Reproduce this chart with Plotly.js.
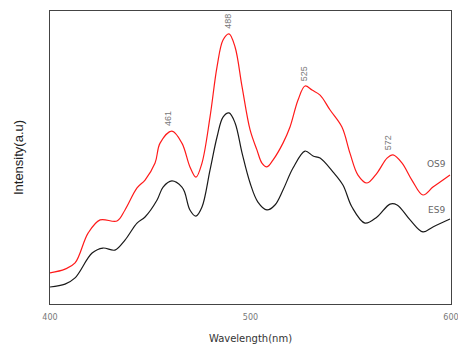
<!DOCTYPE html>
<html>
<head>
<meta charset="utf-8">
<script src="https://cdn.plot.ly/plotly-3.0.1.min.js"></script>
<style>html,body{margin:0;padding:0;background:#fff;}#chart{width:458px;height:344px;}</style>
</head>
<body>
<div id="chart"></div>
<script>
// OS9 (red) spectrum
const osWavelength = [400, 407.5, 412.5, 419, 425, 433.4, 437.4, 443.4, 447.4, 452.4, 454.9, 460.8, 465.8, 469.8, 472.8, 475.8, 479.8, 483.3, 486.3, 489.3, 492.3, 495.8, 499.8, 503.2, 505.7, 508.2, 511.2, 516.2, 519.7, 523.7, 527.2, 530.7, 534.7, 539.7, 545.6, 549.6, 553.6, 558.1, 563.1, 568.1, 571.1, 575.6, 580.5, 586, 591, 596, 599.5];
const osIntensity = [10.6, 11.9, 14.0, 24.2, 28.7, 28.3, 32.1, 39.6, 42.3, 48.1, 54.9, 59.0, 54.9, 46.8, 43.3, 48.1, 63.8, 80.9, 90.1, 92.2, 87.7, 74.1, 59.4, 52.6, 48.1, 46.8, 49.1, 54.9, 60.4, 69.6, 74.4, 73.0, 71.3, 66.2, 60.4, 51.5, 44.0, 41.3, 44.7, 49.8, 50.9, 48.1, 42.3, 37.2, 39.9, 42.3, 44.0];
// ES9 (black) spectrum
const esWavelength = [400, 407.5, 412.5, 421, 426.4, 432.4, 437.4, 443.4, 447.4, 453.4, 456.4, 460.8, 465.8, 467.3, 469.8, 472.8, 475.8, 479.8, 483.3, 486.3, 489.3, 492.3, 495.8, 499.8, 503.7, 508.2, 512.2, 516.2, 521.2, 527.2, 531.2, 534.7, 541.1, 546.1, 550.6, 557.1, 563.1, 569.6, 573.1, 579.6, 586, 591, 599.5];
const esIntensity = [5.8, 6.8, 8.9, 17.4, 19.1, 18.4, 21.8, 27.6, 29.7, 35.5, 39.9, 42.0, 39.9, 37.9, 32.1, 30.0, 33.1, 45.7, 57.0, 63.8, 65.2, 61.8, 51.5, 41.3, 34.8, 32.1, 33.8, 38.9, 46.4, 52.2, 50.5, 49.8, 45.1, 40.6, 33.1, 27.6, 29.7, 34.1, 33.8, 28.7, 24.6, 26.3, 29.0];
// peak labels
const peakLabels = ["461", "488", "525", "572"];
const peakX = [458.5, 489, 526.5, 569];
const peakY = [59.0, 92.2, 74.4, 50.9];
// series labels
const seriesNames = ["OS9", "ES9"];
const tickVals = [400, 500, 600];
const tickText = ["400", "500", "600"];

const traces = [
  {x: osWavelength, y: osIntensity, mode: 'lines', name: seriesNames[0],
   line: {color: '#ff1a1a', width: 1.2, shape: 'spline', smoothing: 1}},
  {x: esWavelength, y: esIntensity, mode: 'lines', name: seriesNames[1],
   line: {color: '#1a1a1a', width: 1.2, shape: 'spline', smoothing: 1}}
];

const annotations = peakLabels.map((t, i) => ({
  x: peakX[i], y: peakY[i], xref: 'x', yref: 'y', text: t, showarrow: false,
  textangle: -90, yanchor: 'bottom', xanchor: 'center', yshift: 3,
  font: {family: 'Liberation Sans, Arial, sans-serif', size: 9, color: '#777'}
}));
annotations.push({x: 593, y: 47.8, xref: 'x', yref: 'y', text: seriesNames[0], showarrow: false,
  font: {family: 'DejaVu Sans, sans-serif', size: 9, color: '#666'}});
annotations.push({x: 593, y: 32.1, xref: 'x', yref: 'y', text: seriesNames[1], showarrow: false,
  font: {family: 'DejaVu Sans, sans-serif', size: 9, color: '#666'}});

const layout = {
  width: 458, height: 344,
  margin: {l: 50, r: 7, t: 11, b: 40},
  paper_bgcolor: '#fff', plot_bgcolor: '#fff',
  showlegend: false,
  font: {family: 'Liberation Sans, Arial, sans-serif'},
  xaxis: {
    range: [400, 600], tickvals: tickVals, ticktext: tickText, ticks: '',
    ticklabeloverflow: 'allow', ticklabelstandoff: 5,
    showgrid: false, zeroline: false, showline: true, mirror: true,
    linecolor: '#444', linewidth: 1,
    tickfont: {family: 'DejaVu Sans, sans-serif', size: 8, color: '#777'},
    title: {text: 'Wavelength(nm)', standoff: 14,
      font: {family: 'DejaVu Sans, sans-serif', size: 10, color: '#333'}}
  },
  yaxis: {
    range: [0, 100], showticklabels: false, ticks: '',
    showgrid: false, zeroline: false, showline: true, mirror: true,
    linecolor: '#444', linewidth: 1,
    title: {text: 'Intensity(a.u)', standoff: 22,
      font: {family: 'Liberation Sans, Arial, sans-serif', size: 13, color: '#222'}}
  },
  annotations: annotations
};

Plotly.newPlot('chart', traces, layout, {displayModeBar: false, staticPlot: true});
</script>
</body>
</html>
